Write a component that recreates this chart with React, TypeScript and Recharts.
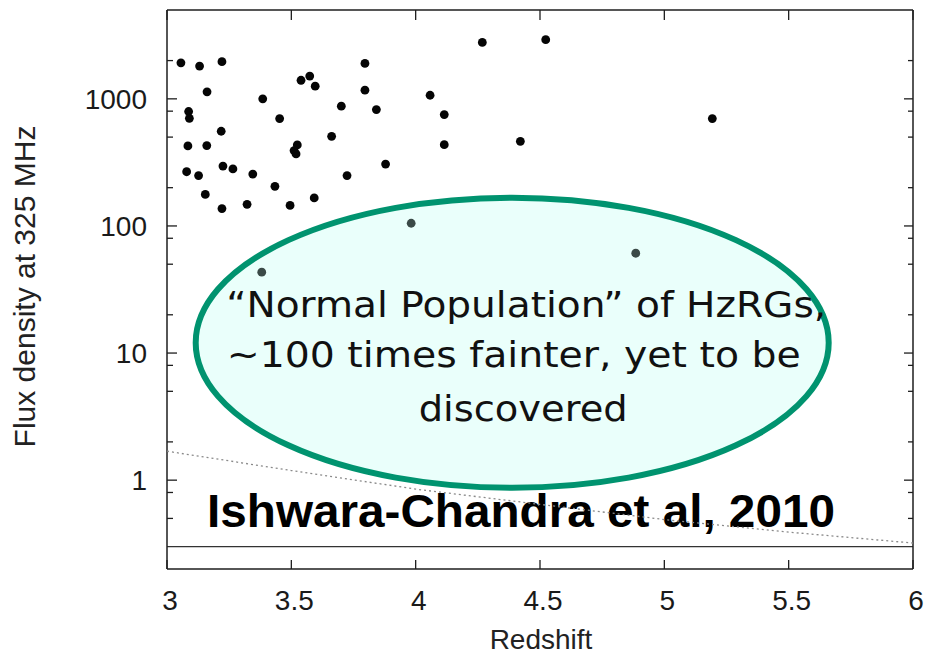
import React from 'react';
import { ScatterChart, Scatter, XAxis, YAxis, ReferenceArea, ReferenceLine } from 'recharts';

// Observed HzRGs (redshift, flux density at 325 MHz in mJy)
const redshift = [
  3.056, 3.131, 3.221, 3.161, 3.385, 3.087, 3.09, 3.218, 3.084, 3.16,
  3.079, 3.127, 3.225, 3.265, 3.345, 3.154, 3.221, 3.322, 3.434, 3.453,
  3.539, 3.574, 3.596, 3.524, 3.511, 3.519, 3.495, 3.592, 3.662, 3.701,
  3.724, 3.796, 3.796, 3.842, 3.879, 4.058, 4.115, 4.115, 4.268, 4.421,
  4.523, 5.193,
];
const flux = [
  1920, 1810, 1960, 1135, 1000, 795, 703, 556, 426, 429,
  267, 249, 296, 281, 256, 177, 137, 148, 205, 700,
  1400, 1510, 1257, 434, 392, 369, 145, 166, 507, 875,
  249, 1900, 1170, 824, 307, 1067, 752, 436, 2780, 463,
  2920, 700,
];
// Sources lying under the highlighted ellipse
const coveredRedshift = [3.381, 3.982, 4.885];
const coveredFlux = [43.3, 105, 61];

// Dotted flux limit curve
const limitRedshift = [3.0, 3.5, 4.0, 4.5, 5.0, 5.5, 6.0];
const limitFlux = [1.69, 1.19, 0.85, 0.645, 0.49, 0.39, 0.32];

const floorFlux = 0.3;

const xTicks = [3, 3.5, 4, 4.5, 5, 5.5, 6];
const xTickLabels = ['3', '3.5', '4', '4.5', '5', '5.5', '6'];
const yMajorTicks = [1, 10, 100, 1000];
const yMajorLabels = ['1', '10', '100', '1000'];
const yMinorTicks = [0.5, 0.8, 2, 5, 8, 20, 50, 80, 200, 500, 800, 2000];

const ellipseLines = ['\u201CNormal Population\u201D of HzRGs,', '~100 times fainter, yet to be', 'discovered'];
const citation = 'Ishwara-Chandra et al, 2010';

const mainData = redshift.map((z, i) => ({ z, flux: flux[i] }));
const coveredData = coveredRedshift.map((z, i) => ({ z, flux: coveredFlux[i] }));
const limitData = limitRedshift.map((z, i) => ({ z, flux: limitFlux[i] }));
const yAllTicks = [...yMinorTicks, ...yMajorTicks].sort((a, b) => a - b);

const FONT = '"Liberation Sans", Arial, Helvetica, sans-serif';
const AXIS = '#1e1e1e';

const isMajor = (v: number) => yMajorTicks.includes(v);

const LeftTick = (props: any) => {
  const { x, y, payload } = props;
  const v = payload.value;
  const len = isMajor(v) ? 10 : 6;
  const idx = yMajorTicks.indexOf(v);
  return (
    <g>
      <line x1={x} x2={x + len} y1={y} y2={y} stroke={AXIS} strokeWidth={1.3} />
      {idx >= 0 && (
        <text x={x - 20} y={y + 10} textAnchor="end" fontFamily={FONT} fontSize={28} fill="#1a1a1a">
          {yMajorLabels[idx]}
        </text>
      )}
    </g>
  );
};

const RightTick = (props: any) => {
  const { x, y, payload } = props;
  const len = isMajor(payload.value) ? 9 : 5;
  return <line x1={x - len} x2={x} y1={y} y2={y} stroke={AXIS} strokeWidth={1.3} />;
};

const BottomTick = (props: any) => {
  const { x, y, payload } = props;
  const idx = xTicks.indexOf(payload.value);
  return (
    <g>
      <line x1={x} x2={x} y1={y - 9} y2={y} stroke={AXIS} strokeWidth={1.3} />
      <text x={x + 3} y={y + 41} textAnchor="middle" fontFamily={FONT} fontSize={28} fill="#1a1a1a">
        {idx >= 0 ? xTickLabels[idx] : ''}
      </text>
    </g>
  );
};

const TopTick = (props: any) => {
  const { x, y } = props;
  return <line x1={x} x2={x} y1={y} y2={y + 10} stroke={AXIS} strokeWidth={1.3} />;
};

const normRect = (p: any) => {
  const x = Math.min(p.x, p.x + p.width);
  const y = Math.min(p.y, p.y + p.height);
  return { x, y, w: Math.abs(p.width), h: Math.abs(p.height) };
};

const EllipseShape = (props: any) => {
  const { x, y, w, h } = normRect(props);
  const cx = x + w / 2;
  const cy = y + h / 2;
  const lineDx = [14, 1.5, 11];
  const lineDy = [-26, 24, 78];
  const lineW = [600, 574, 209];
  return (
    <g>
      <ellipse cx={cx} cy={cy} rx={w / 2} ry={h / 2} fill="#eafffb" stroke="#00936f" strokeWidth={6} />
      {ellipseLines.map((t, i) => (
        <text
          key={i}
          x={cx + lineDx[i]}
          y={cy + lineDy[i]}
          textAnchor="middle"
          fontFamily='"Comic Sans MS", "DejaVu Sans", sans-serif'
          fontSize={36}
          fill="#111"
          textLength={lineW[i]}
          lengthAdjust="spacingAndGlyphs"
        >
          {t}
        </text>
      ))}
    </g>
  );
};

const CitationShape = (props: any) => {
  const { x, y, w, h } = normRect(props);
  return (
    <text
      x={x + w / 2}
      y={y + h}
      textAnchor="middle"
      fontFamily={FONT}
      fontWeight="bold"
      fontSize={46}
      fill="#000"
      textLength={w}
      lengthAdjust="spacingAndGlyphs"
    >
      {citation}
    </text>
  );
};

const Dot = (color: string) => (props: any) => {
  const { cx, cy } = props;
  if (cx == null || cy == null) return <g />;
  return <circle cx={cx} cy={cy} r={4.4} fill={color} />;
};

const NoDot = () => <g />;

export default function App() {
  return (
    <div style={{ position: 'absolute', left: 0, top: 0, background: '#fff' }}>
      <ScatterChart width={927} height={655} margin={{ top: 0, right: 0, bottom: 0, left: 0 }}>
        <XAxis
          type="number"
          dataKey="z"
          domain={[3, 6]}
          allowDataOverflow
          ticks={xTicks}
          interval={0}
          height={86}
          tickSize={0}
          tickMargin={0}
          tickLine={false}
          tick={BottomTick}
          axisLine={{ stroke: AXIS, strokeWidth: 1.5 }}
          label={{
            content: (p: any) => {
              const vb = p.viewBox;
              return (
                <text x={vb.x + vb.width / 2 + 1} y={vb.y + 80} textAnchor="middle" fontFamily={FONT} fontSize={28} fill="#222">
                  Redshift
                </text>
              );
            },
          }}
        />
        <XAxis
          xAxisId="top"
          orientation="top"
          type="number"
          dataKey="z"
          domain={[3, 6]}
          allowDataOverflow
          ticks={xTicks}
          interval={0}
          height={10}
          tickSize={0}
          tickMargin={0}
          tickLine={false}
          tick={TopTick}
          axisLine={{ stroke: AXIS, strokeWidth: 1.5 }}
        />
        <YAxis
          type="number"
          dataKey="flux"
          scale="log"
          domain={[0.2, 5000]}
          allowDataOverflow
          ticks={yAllTicks}
          interval={0}
          width={167}
          tickSize={0}
          tickMargin={0}
          tickLine={false}
          tick={LeftTick}
          axisLine={{ stroke: AXIS, strokeWidth: 1.5 }}
          label={{
            content: (p: any) => {
              const vb = p.viewBox;
              const lx = vb.x + 24;
              const ly = vb.y + vb.height / 2 - 3;
              return (
                <text
                  x={lx}
                  y={ly}
                  transform={`rotate(-90, ${lx}, ${ly})`}
                  textAnchor="middle"
                  dominantBaseline="central"
                  fontFamily={FONT}
                  fontSize={30}
                  fill="#222"
                >
                  Flux density at 325 MHz
                </text>
              );
            },
          }}
        />
        <YAxis
          yAxisId="r"
          orientation="right"
          type="number"
          dataKey="flux"
          scale="log"
          domain={[0.2, 5000]}
          allowDataOverflow
          ticks={yAllTicks}
          interval={0}
          width={14}
          tickSize={0}
          tickMargin={0}
          tickLine={false}
          tick={RightTick}
          axisLine={{ stroke: AXIS, strokeWidth: 1.5 }}
        />
        <ReferenceLine y={floorFlux} stroke="#333" strokeWidth={1.4} />
        <Scatter
          data={limitData}
          shape={NoDot}
          line={{ stroke: '#8a8a8a', strokeWidth: 1.3, strokeDasharray: '2 3' }}
          lineType="joint"
          isAnimationActive={false}
        />
        <ReferenceArea x1={3.161} x2={5.686} y1={0.426} y2={0.776} shape={CitationShape} ifOverflow="visible" />
        <ReferenceArea x1={3.1154} x2={5.661} y1={0.87} y2={167} shape={EllipseShape} ifOverflow="visible" />
        <Scatter data={mainData} shape={Dot('#050505')} isAnimationActive={false} />
        <Scatter data={coveredData} shape={Dot('#3b4a47')} isAnimationActive={false} />
      </ScatterChart>
    </div>
  );
}
